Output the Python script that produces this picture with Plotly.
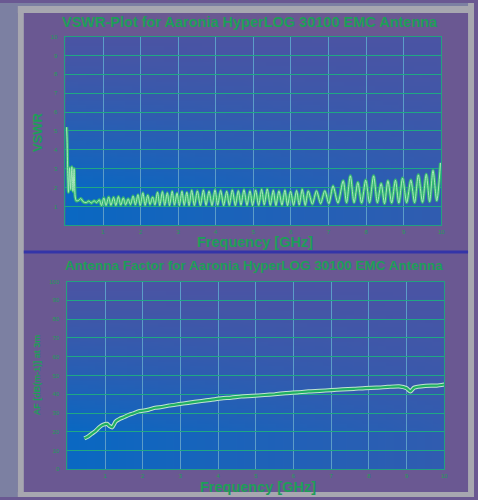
import struct, zlib, base64
import plotly.graph_objects as go

# ---------------- data ----------------
title_top = "VSWR-Plot for Aaronia HyperLOG 30100 EMC Antenna"
title_bottom = "Antenna Factor for Aaronia HyperLOG 30100 EMC Antenna"
x_title = "Frequency [GHz]"
y_title_top = "VSWR"
y_title_bottom = "AF [dB(m-1)] at 3m"

freq_ticks = [1, 2, 3, 4, 5, 6, 7, 8, 9, 10]
vswr_ticks = [1, 2, 3, 4, 5, 6, 7, 8, 9, 10]
af_ticks = [0, 10, 20, 30, 40, 50, 60, 70, 80, 90, 100]

vswr_freq = [
    0.03, 0.045, 0.06, 0.08, 0.11, 0.14, 0.17, 0.20, 0.23, 0.26, 0.29, 0.35, 0.41, 0.47,
    0.55, 0.62, 0.69, 0.76, 0.83, 0.90,
    0.96, 1.02, 1.08, 1.15, 1.21, 1.28, 1.34, 1.41, 1.47, 1.54, 1.60, 1.67, 1.73, 1.80,
    1.86, 1.93, 1.99, 2.06, 2.12, 2.19, 2.25, 2.32, 2.38, 2.45, 2.51, 2.58, 2.64, 2.71,
    2.77, 2.84, 2.90, 2.97, 3.03, 3.10, 3.16, 3.23, 3.29, 3.36, 3.43,
    3.51, 3.59, 3.67, 3.74, 3.82, 3.90, 3.98, 4.05, 4.13, 4.21, 4.29, 4.36, 4.44, 4.52,
    4.60, 4.67, 4.75, 4.83, 4.91, 4.98, 5.06, 5.14, 5.22, 5.29, 5.37, 5.45, 5.53, 5.60,
    5.68, 5.76, 5.84, 5.91, 5.99, 6.07, 6.15, 6.22, 6.30, 6.38, 6.46, 6.57,
    6.68, 6.79, 6.90, 7.01, 7.12, 7.25, 7.39, 7.48, 7.58, 7.68, 7.78, 7.88, 7.99, 8.09,
    8.20, 8.30, 8.40, 8.49, 8.58, 8.68, 8.78, 8.87, 8.97, 9.08, 9.19, 9.29, 9.39, 9.50,
    9.60, 9.69, 9.78, 9.88, 9.98,
]
vswr_val = [
    5.20, 4.40, 2.90, 1.75, 3.05, 1.90, 3.10, 1.80, 3.00, 1.50, 1.30, 1.32, 1.42, 1.25,
    1.20, 1.28, 1.18, 1.30, 1.20, 1.35,
    1.05, 1.45, 1.05, 1.50, 1.06, 1.48, 1.05, 1.52, 1.07, 1.45, 1.08, 1.40, 1.10, 1.55,
    1.08, 1.62, 1.05, 1.72, 1.06, 1.60, 1.10, 1.50, 1.08, 1.75, 1.05, 1.78, 1.06, 1.72,
    1.05, 1.80, 1.07, 1.70, 1.05, 1.80, 1.06, 1.75, 1.05, 1.85, 1.05,
    1.82, 1.05, 1.86, 1.06, 1.80, 1.05, 1.88, 1.07, 1.84, 1.05, 1.80, 1.06, 1.87, 1.05,
    1.83, 1.07, 1.88, 1.06, 1.82, 1.05, 1.86, 1.06, 1.90, 1.08, 1.92, 1.06, 1.85, 1.05,
    1.82, 1.07, 1.86, 1.05, 1.80, 1.06, 1.84, 1.08, 1.90, 1.06, 1.82, 1.12,
    1.83, 1.15, 1.83, 1.15, 2.09, 1.18, 2.36, 1.20, 2.62, 1.20, 2.27, 1.18, 2.39, 1.20,
    2.62, 1.20, 2.21, 1.15, 2.36, 1.18, 2.39, 1.18, 2.50, 1.20, 2.39, 1.20, 2.67, 1.22,
    2.70, 1.25, 2.91, 1.30, 3.31,
]

af_freq = [
    0.45, 0.55, 0.65, 0.75, 0.85, 0.95, 1.05, 1.12, 1.19, 1.28, 1.38, 1.50, 1.63, 1.75,
    1.89, 2.00, 2.16, 2.33, 2.50, 2.70, 2.95, 3.20, 3.56, 3.80, 4.09, 4.35, 4.61, 4.90,
    5.23, 5.50, 5.80, 6.10, 6.40, 6.70, 7.00, 7.30, 7.60, 7.90, 8.20, 8.50, 8.80, 9.00,
    9.10, 9.20, 9.50, 9.80, 10.00,
]
af_val = [
    16.5, 17.5, 19.0, 20.5, 22.5, 23.8, 24.2, 23.0, 22.4, 25.5, 26.8, 27.8, 29.0, 29.8,
    30.9, 31.2, 31.8, 32.8, 33.2, 34.0, 34.7, 35.4, 36.4, 37.0, 37.8, 38.2, 38.8, 39.1,
    39.6, 40.0, 40.6, 41.0, 41.5, 41.8, 42.2, 42.6, 42.9, 43.3, 43.5, 43.9, 44.2, 43.2,
    41.5, 43.5, 44.5, 44.6, 45.2,
]

# ---------------- style ----------------
W, H = 478, 500
GREEN_TXT = "#1d9e58"
PURPLE = "#6a5892"
GRAY = "#a7a7b0"
TEXTURE = "#7c80a2"
HGRID = "#1fa884"
VGRID = "#5c9cc8"
BORDER = "#22a080"
FONT = "Liberation Sans, Arial, sans-serif"


def gradient_png(w, h):
    top = (74, 84, 164)
    blue = (10, 104, 194)
    rows = []
    for j in range(h):
        v = j / (h - 1)
        row = bytearray([0])
        for i in range(w):
            u = i / (w - 1)
            b = min(1.0, 1.25 * v) ** 1.2 * (1 - 0.6 * u)
            b = max(0.0, min(1.0, b))
            for k in range(3):
                row.append(int(round(top[k] + (blue[k] - top[k]) * b)))
        rows.append(bytes(row))
    raw = b"".join(rows)

    def chunk(t, d):
        return struct.pack(">I", len(d)) + t + d + struct.pack(">I", zlib.crc32(t + d) & 0xFFFFFFFF)

    png = (b"\x89PNG\r\n\x1a\n"
           + chunk(b"IHDR", struct.pack(">IIBBBBB", w, h, 8, 2, 0, 0, 0))
           + chunk(b"IDAT", zlib.compress(raw, 9))
           + chunk(b"IEND", b""))
    return "data:image/png;base64," + base64.b64encode(png).decode()


grad = gradient_png(48, 48)


def px(x):
    return x / W


def py(y):
    return 1 - y / H


top_dom_x = [px(66), px(445)]
top_dom_y = [py(225), py(34)]
bot_dom_x = [px(68), px(448)]
bot_dom_y = [py(472), py(282)]

fig = go.Figure()

# VSWR curve: green glow with pale core
fig.add_trace(go.Scatter(x=vswr_freq, y=vswr_val, mode="lines", xaxis="x", yaxis="y",
                         line=dict(color="#34b870", width=3.2, shape="spline", smoothing=0.8),
                         hoverinfo="skip", showlegend=False))
fig.add_trace(go.Scatter(x=vswr_freq, y=vswr_val, mode="lines", xaxis="x", yaxis="y",
                         line=dict(color="#a8e6bc", width=1.0, shape="spline", smoothing=0.8),
                         showlegend=False))
# AF curve: pale outline with green core
fig.add_trace(go.Scatter(x=af_freq, y=af_val, mode="lines", xaxis="x2", yaxis="y2",
                         line=dict(color="#c0e4d0", width=4.2, shape="spline", smoothing=0.6),
                         hoverinfo="skip", showlegend=False))
fig.add_trace(go.Scatter(x=af_freq, y=af_val, mode="lines", xaxis="x2", yaxis="y2",
                         line=dict(color="#20b060", width=2.2, shape="spline", smoothing=0.6),
                         showlegend=False))

axis_common = dict(showline=True, linecolor=BORDER, linewidth=1, mirror=True,
                   ticks="", zeroline=False,
                   tickfont=dict(family=FONT, size=6, color=GREEN_TXT))

fig.update_layout(
    width=W, height=H,
    margin=dict(l=0, r=0, t=0, b=0),
    paper_bgcolor=PURPLE,
    plot_bgcolor="rgba(0,0,0,0)",
    font=dict(family=FONT, color=GREEN_TXT),
    xaxis=dict(domain=top_dom_x, anchor="y", range=[0, 10], tickvals=freq_ticks,
               gridcolor=VGRID, gridwidth=1, **axis_common),
    yaxis=dict(domain=top_dom_y, anchor="x", range=[0, 10], tickvals=vswr_ticks,
               gridcolor=HGRID, gridwidth=1, ticklabelstandoff=6, **axis_common),
    xaxis2=dict(domain=bot_dom_x, anchor="y2", range=[0, 10], tickvals=freq_ticks,
                gridcolor=VGRID, gridwidth=1, **axis_common),
    yaxis2=dict(domain=bot_dom_y, anchor="x2", range=[0, 100], tickvals=af_ticks,
                gridcolor=HGRID, gridwidth=1, ticklabelstandoff=6, **axis_common),
    showlegend=False,
)

# plot-area gradients
for dx, dy in [(top_dom_x, top_dom_y), (bot_dom_x, bot_dom_y)]:
    fig.add_layout_image(dict(source=grad, xref="paper", yref="paper",
                              x=dx[0], y=dy[1], sizex=dx[1] - dx[0], sizey=dy[1] - dy[0],
                              xanchor="left", yanchor="top", sizing="stretch", layer="below"))

# frame decorations (outside plot areas)
shapes = [
    dict(x0=0, x1=px(18), y0=0, y1=1, fillcolor=TEXTURE),
    dict(x0=px(18), x1=px(24), y0=0, y1=1, fillcolor=GRAY),
    dict(x0=0, x1=1, y0=py(3), y1=1, fillcolor=TEXTURE),
    dict(x0=px(18), x1=1, y0=py(10), y1=py(3), fillcolor=GRAY),
    dict(x0=px(472), x1=1, y0=0, y1=1, fillcolor=GRAY),
    dict(x0=px(18), x1=1, y0=0, y1=py(495), fillcolor=GRAY),
    dict(x0=px(24), x1=px(472), y0=py(253.5), y1=py(250.5), fillcolor="#3434a8"),
]
for s in shapes:
    fig.add_shape(type="rect", xref="paper", yref="paper", line=dict(width=0),
                  layer="below", **s)

ann = [
    dict(text="<b>%s</b>" % title_top, x=px(252), y=py(19), size=14.5, angle=0),
    dict(text="<b>%s</b>" % x_title, x=px(257), y=py(242), size=14.5, angle=0),
    dict(text="<b>%s</b>" % y_title_top, x=px(38), y=py(131), size=13, angle=-90),
    dict(text="<b>%s</b>" % title_bottom, x=px(256), y=py(266), size=13.5, angle=0),
    dict(text="<b>%s</b>" % x_title, x=px(260), y=py(490), size=14.5, angle=0),
    dict(text="<b>%s</b>" % y_title_bottom, x=px(38), y=py(376), size=9, angle=-90),
]
for a in ann:
    fig.add_annotation(text=a["text"], x=a["x"], y=a["y"], xref="paper", yref="paper",
                       showarrow=False, textangle=a["angle"], xanchor="center", yanchor="middle",
                       font=dict(family=FONT, size=a["size"], color=GREEN_TXT))

fig.write_html("out.html", config={"displayModeBar": False},
               post_script="document.body.style.margin='0px';document.body.style.overflow='hidden';")
